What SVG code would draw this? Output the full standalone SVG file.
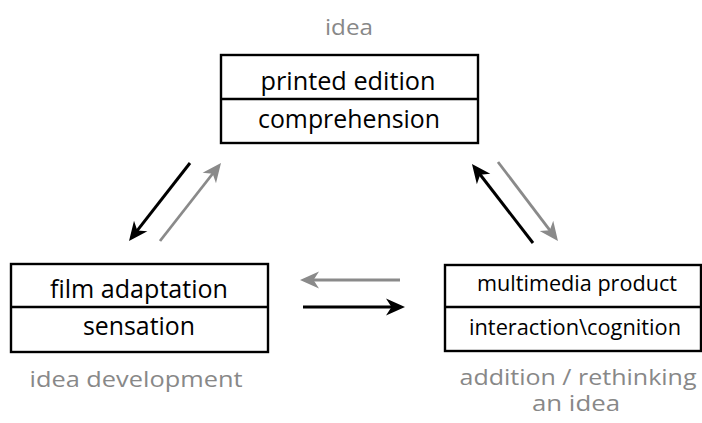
<svg xmlns="http://www.w3.org/2000/svg" width="702" height="423" viewBox="0 0 702 423">
<style>
.box{fill:#fff;stroke:#000;stroke-width:2.4}
.div{stroke:#000;stroke-width:2.4}
.t{font-family:"Open Sans","Noto Sans",sans-serif;fill:#000;text-anchor:middle}
.big{font-size:25px}
.sm{font-size:21px}
.g{font-family:"Open Sans","Noto Sans",sans-serif;fill:#888;text-anchor:middle;font-size:22px}
.g2{font-size:21px}
.lk{stroke:#000;stroke-width:3;fill:none}
.lg{stroke:#8a8a8a;stroke-width:2.8;fill:none}
</style>
<defs>
<marker id="hk" markerUnits="userSpaceOnUse" viewBox="-8 -10 21 20" refX="0" refY="0" markerWidth="21" markerHeight="20" orient="auto">
<path d="M12,0 L-7,-8.5 L-1.5,0 L-7,8.5 Z" fill="#000"/>
</marker>
<marker id="hg" markerUnits="userSpaceOnUse" viewBox="-8 -10 21 20" refX="0" refY="0" markerWidth="21" markerHeight="20" orient="auto">
<path d="M12,0 L-7,-8.5 L-1.5,0 L-7,8.5 Z" fill="#8a8a8a"/>
</marker>
</defs>
<g id="top">
<text class="g" x="349" y="35" textLength="48" lengthAdjust="spacingAndGlyphs">idea</text>
<rect class="box" x="221" y="55" width="257" height="88"/>
<line class="div" x1="221" y1="99" x2="478" y2="99"/>
<text class="t big" x="348" y="90" textLength="175" lengthAdjust="spacingAndGlyphs">printed edition</text>
<text class="t big" x="349" y="128" textLength="182" lengthAdjust="spacingAndGlyphs">comprehension</text>
</g>
<g id="left">
<rect class="box" x="11" y="264" width="257" height="88"/>
<line class="div" x1="11" y1="307" x2="268" y2="307"/>
<text class="t big" x="139" y="298" textLength="178" lengthAdjust="spacingAndGlyphs">film adaptation</text>
<text class="t big" x="139" y="335" textLength="112" lengthAdjust="spacingAndGlyphs">sensation</text>
<text class="g" x="136" y="387" textLength="213" lengthAdjust="spacingAndGlyphs">idea development</text>
</g>
<g id="right">
<rect class="box" x="445" y="265" width="256" height="86"/>
<line class="div" x1="445" y1="307" x2="701" y2="307"/>
<text class="t sm" x="577" y="291" textLength="200" lengthAdjust="spacingAndGlyphs">multimedia product</text>
<text class="t sm" x="575" y="335" textLength="212" lengthAdjust="spacingAndGlyphs">interaction\cognition</text>
<text class="g g2" x="578" y="385" textLength="237" lengthAdjust="spacingAndGlyphs">addition / rethinking</text>
<text class="g g2" x="576" y="411" textLength="88" lengthAdjust="spacingAndGlyphs">an idea</text>
</g>
<g id="connectors">
<line class="lk" x1="190" y1="163" x2="136.4" y2="231.6" marker-end="url(#hk)"/>
<line class="lg" x1="160" y1="241" x2="213.6" y2="172.5" marker-end="url(#hg)"/>
<line class="lk" x1="533" y1="243" x2="479.3" y2="173.5" marker-end="url(#hk)"/>
<line class="lg" x1="498" y1="162" x2="550.7" y2="231.4" marker-end="url(#hg)"/>
<line class="lg" x1="400" y1="280" x2="312" y2="280" marker-end="url(#hg)"/>
<line class="lk" x1="303" y1="307" x2="393" y2="307" marker-end="url(#hk)"/>
</g>
</svg>
